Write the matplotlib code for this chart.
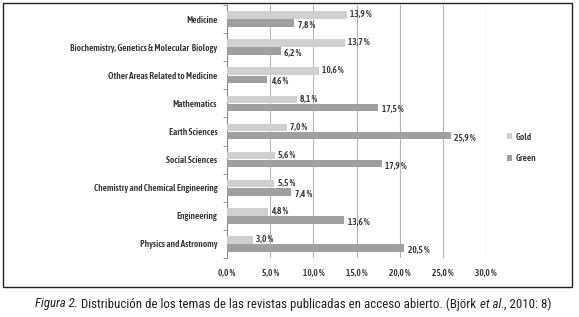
import matplotlib
matplotlib.use("Agg")
import matplotlib.pyplot as plt
from matplotlib import font_manager as fm
from matplotlib.patches import Rectangle
import numpy as np

categories = ["Medicine", "Biochemistry, Genetics & Molecular  Biology",
              "Other Areas Related to Medicine", "Mathematics", "Earth Sciences",
              "Social Sciences", "Chemistry and Chemical Engineering",
              "Engineering", "Physics and Astronomy"]
gold = [13.9, 13.7, 10.6, 8.1, 7.0, 5.6, 5.5, 4.8, 3.0]
green = [7.8, 6.2, 4.6, 17.5, 25.9, 17.9, 7.4, 13.6, 20.5]
xticks = [0, 5, 10, 15, 20, 25, 30]
series_names = ["Gold", "Green"]
caption = [("Figura 2.", "italic"),
           (" Distribución de los temas de las revistas publicadas en acceso abierto. (Björk ", "normal"),
           ("et al.", "italic"), (", 2010: 8)", "normal")]

names = {f.name for f in fm.fontManager.ttflist}
def pick(cands):
    for c in cands:
        if c in names:
            return c
    return "DejaVu Sans"
chart_font = pick(["Asap Condensed", "Barlow Condensed", "Roboto Condensed", "Archivo Narrow"])
cap_font = pick(["Roboto Condensed", "Archivo Narrow", "Asap Condensed", "Barlow Condensed"])
plt.rcParams['font.family'] = [chart_font, 'DejaVu Sans']
WEIGHT = 600

def fmt(v):
    return f"{v:.1f}".replace(".", ",") + " %"

W, H = 579, 317
fig = plt.figure(figsize=(W/100, H/100), dpi=100)
r = fig.canvas.get_renderer()

# choose chart font size so the longest category label matches the reference width
probe = fig.text(0, 0, categories[1], fontsize=10, fontweight=WEIGHT)
pw = probe.get_window_extent(renderer=r).width
probe.remove()
fs = min(8.5, 10 * 147 / pw)

fig.patches.append(Rectangle((3/W, 1-287/H), 569/W, 284/H, transform=fig.transFigure,
                             fill=False, edgecolor="#222222", linewidth=1.0))

ax = fig.add_axes([227/W, 1-258/H, (486-227)/W, (258-5)/H])
n = len(categories)
y = np.arange(n)
h = 0.27
ax.barh(y - h/2 - 0.01, gold, height=h, color="#d0d0d0", label=series_names[0], zorder=3)
ax.barh(y + h/2 + 0.01, green, height=h, color="#a0a0a0", label=series_names[1], zorder=3)
lc = "#333333"
for i in range(n):
    ax.text(gold[i] + 0.35, y[i] - h/2 - 0.02, fmt(gold[i]), fontsize=fs, fontweight=WEIGHT,
            va="center", ha="left", color=lc)
    ax.text(green[i] + 0.45, y[i] + h/2 + 0.1, fmt(green[i]), fontsize=fs, fontweight=WEIGHT,
            va="center", ha="left", color=lc)

ax.set_ylim(n - 0.5, -0.5)
ax.set_xlim(0, 30)
ax.set_xticks(xticks)
ax.set_xticklabels([fmt(v) for v in xticks], fontsize=fs, fontweight=WEIGHT, color=lc)
ax.set_yticks(y)
ax.set_yticklabels(categories, fontsize=fs, fontweight=WEIGHT, color=lc)
ax.set_yticks(np.arange(-0.5, n, 1), minor=True)
ax.tick_params(axis="y", which="major", length=0, pad=7)
ax.tick_params(axis="y", which="minor", length=3, color="#888888")
ax.tick_params(axis="x", length=0, pad=8)
ax.grid(axis="x", color="#b4b4b4", linewidth=0.8, zorder=0)
for s in ["top", "right", "bottom"]:
    ax.spines[s].set_visible(False)
ax.spines["left"].set_color("#888888")
ax.spines["left"].set_linewidth(0.8)

ax.legend(loc="center left", bbox_to_anchor=(499/W, 1-148/H), bbox_transform=fig.transFigure,
          frameon=False, handlelength=0.55, handleheight=0.55,
          labelspacing=1.4, handletextpad=0.35, prop={"weight": WEIGHT, "size": fs, "family": chart_font},
          labelcolor=lc)

# caption with mixed italic, scaled to reference width
texts = []
for s, st in caption:
    tt = fig.text(0, 1-304/H, s, fontsize=10, style=st, va="center", color="#222222",
                  family=[cap_font, "DejaVu Sans"])
    texts.append(tt)
def widths():
    return [tt.get_window_extent(renderer=r).width for tt in texts]
total = sum(widths())
newfs = 10 * 511 / total
for tt in texts:
    tt.set_fontsize(newfs)
ws = widths()
x0 = 293.5 - sum(ws)/2
for tt, w in zip(texts, ws):
    tt.set_x(x0/W)
    x0 += w

fig.savefig("out.png", dpi=100)
